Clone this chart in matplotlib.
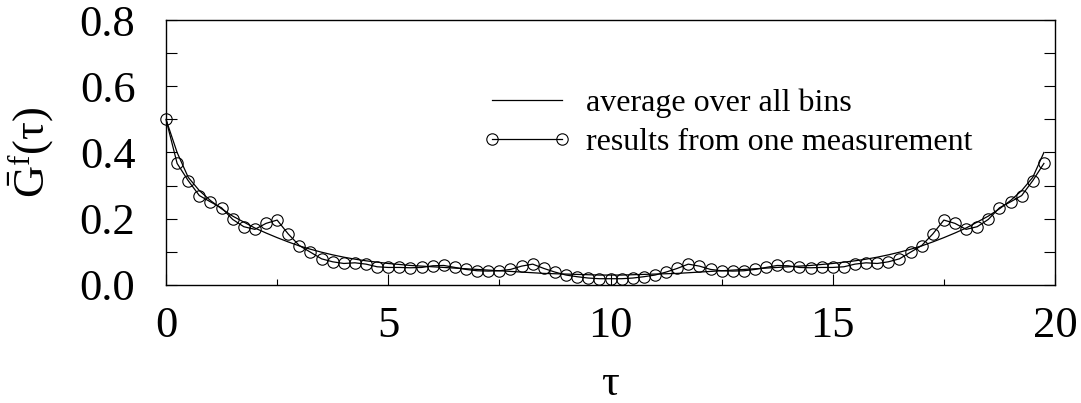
import matplotlib
matplotlib.use('Agg')
import matplotlib.pyplot as plt
from matplotlib.ticker import MultipleLocator

plt.rcParams['font.family'] = ['Liberation Serif', 'DejaVu Serif']
plt.rcParams['mathtext.fontset'] = 'custom'
plt.rcParams['mathtext.rm'] = 'Liberation Serif'
plt.rcParams['mathtext.it'] = 'Liberation Serif:italic'

# imaginary time grid, step 0.25
tau = [i * 0.25 for i in range(80)]

# average over all bins
g_avg = [0.500, 0.400, 0.325, 0.285, 0.255, 0.230, 0.208, 0.190, 0.172, 0.157,
         0.143, 0.130, 0.118, 0.108, 0.099, 0.091, 0.084, 0.078, 0.073, 0.069,
         0.065, 0.062, 0.059, 0.057, 0.055, 0.053, 0.051, 0.049, 0.047, 0.045,
         0.043, 0.041, 0.039, 0.037, 0.035, 0.034, 0.033, 0.032, 0.031, 0.030,
         0.030, 0.030, 0.031, 0.032, 0.033, 0.034, 0.035, 0.037, 0.039, 0.041,
         0.043, 0.045, 0.047, 0.049, 0.051, 0.053, 0.055, 0.057, 0.059, 0.062,
         0.065, 0.069, 0.073, 0.078, 0.084, 0.091, 0.099, 0.108, 0.118, 0.130,
         0.143, 0.157, 0.172, 0.190, 0.208, 0.230, 0.255, 0.285, 0.325, 0.400]

# results from one measurement
g_one = [0.500, 0.367, 0.315, 0.270, 0.251, 0.233, 0.198, 0.176, 0.168, 0.186,
         0.196, 0.154, 0.119, 0.099, 0.079, 0.070, 0.065, 0.067, 0.063, 0.055,
         0.053, 0.053, 0.052, 0.053, 0.058, 0.059, 0.053, 0.047, 0.043, 0.042,
         0.043, 0.047, 0.057, 0.063, 0.050, 0.039, 0.030, 0.025, 0.021, 0.019,
         0.019, 0.019, 0.021, 0.025, 0.030, 0.039, 0.050, 0.063, 0.057, 0.047,
         0.043, 0.042, 0.043, 0.047, 0.053, 0.059, 0.058, 0.053, 0.052, 0.053,
         0.053, 0.055, 0.063, 0.067, 0.065, 0.070, 0.079, 0.099, 0.119, 0.154,
         0.196, 0.186, 0.168, 0.176, 0.198, 0.233, 0.251, 0.270, 0.315, 0.367]

fig = plt.figure(figsize=(10.81, 4.03), dpi=100)
ax = fig.add_axes([166 / 1081, 1 - 285 / 403, (1055 - 166) / 1081, (285 - 20) / 403])

ax.plot(tau, g_avg, color='black', lw=0.9, label='average over all bins')
ax.plot(tau, g_one, color='black', lw=0.9, marker='o', ms=8.2, mfc='none',
        mec='black', mew=0.8, clip_on=False, label='results from one measurement')

ax.set_xlim(0, 20)
ax.set_ylim(0, 0.8)
ax.xaxis.set_major_locator(MultipleLocator(5))
ax.xaxis.set_minor_locator(MultipleLocator(2.5))
ax.yaxis.set_major_locator(MultipleLocator(0.2))
ax.yaxis.set_minor_locator(MultipleLocator(0.1))
ax.yaxis.set_major_formatter(plt.FormatStrFormatter('%.1f'))
ax.tick_params(which='both', direction='in', top=False, right=True, width=0.8)
ax.tick_params(which='major', length=8, labelsize=32)
ax.tick_params(which='minor', length=8)
ax.tick_params(axis='x', which='minor', length=4)
ax.tick_params(axis='y', pad=22)
ax.tick_params(axis='x', pad=15)
for s in ax.spines.values():
    s.set_linewidth(1.0)

ax.set_xlabel('τ', fontsize=32, labelpad=13)
ax.set_ylabel(r'$\mathrm{\bar{G}^{f}(τ)}$', fontsize=32, labelpad=17)

ax.legend(loc='upper left', bbox_to_anchor=(482 / 1081, 1 - 89 / 403),
          bbox_transform=fig.transFigure, frameon=False, fontsize=23,
          numpoints=2, handlelength=2.79, handletextpad=0.48, labelspacing=0.3,
          borderpad=0, borderaxespad=0)

fig.savefig('out.png', dpi=100)
